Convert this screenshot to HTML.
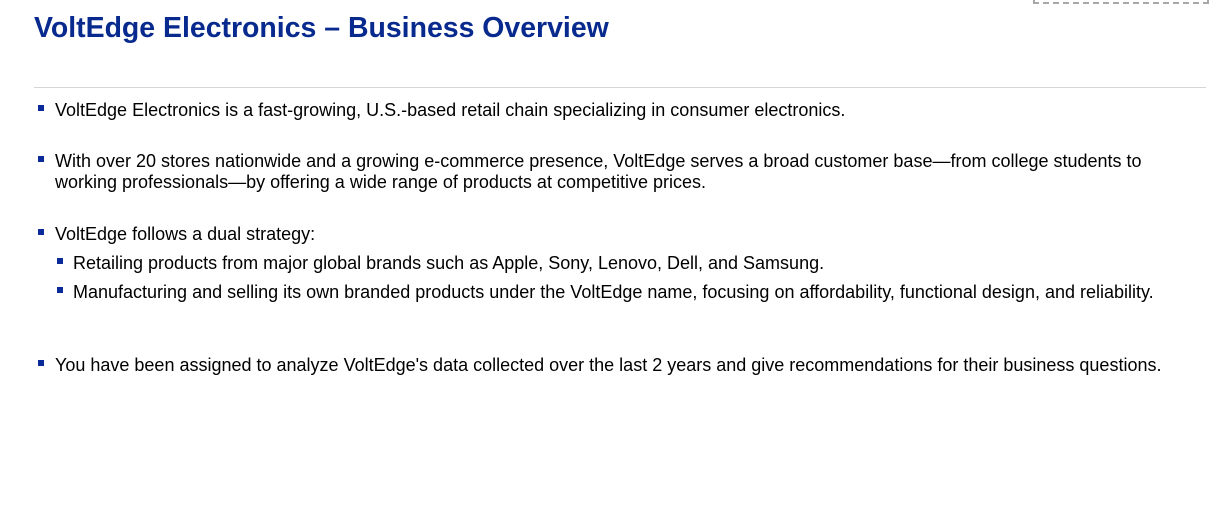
<!DOCTYPE html>
<html><head><meta charset="utf-8"><style>
body{margin:0;width:1231px;height:518px;background:#fff;position:relative;overflow:hidden;font-family:"Liberation Sans",Arial,sans-serif;}
.t{position:absolute;left:34px;top:12px;font-size:28.45px;font-weight:bold;color:#082a8e;white-space:nowrap;}
.rule{position:absolute;left:34px;top:87px;width:1172px;height:1px;background:#d6d6d6;}
.box{position:absolute;left:1033px;top:-10px;width:172px;height:10px;border:2px dashed #a8a8a8;}
.l{position:absolute;font-size:18px;color:#000;white-space:nowrap;line-height:21px;}
.b{position:absolute;width:6px;height:6px;background:#0a2a9a;}
</style></head><body>
<div class="box"></div>
<div class="t">VoltEdge Electronics – Business Overview</div>
<div class="rule"></div>
<div class="b" style="left:38px;top:105px"></div>
<div class="l" style="left:55px;top:100px">VoltEdge Electronics is a fast-growing, U.S.-based retail chain specializing in consumer electronics.</div>
<div class="b" style="left:38px;top:156px"></div>
<div class="l" style="left:55px;top:151px">With over 20 stores nationwide and a growing e-commerce presence, VoltEdge serves a broad customer base—from college students to<br>working professionals—by offering a wide range of products at competitive prices.</div>
<div class="b" style="left:38px;top:229px"></div>
<div class="l" style="left:55px;top:224px">VoltEdge follows a dual strategy:</div>
<div class="b" style="left:57px;top:258px"></div>
<div class="l" style="left:73px;top:253px">Retailing products from major global brands such as Apple, Sony, Lenovo, Dell, and Samsung.</div>
<div class="b" style="left:57px;top:287px"></div>
<div class="l" style="left:73px;top:282px">Manufacturing and selling its own branded products under the VoltEdge name, focusing on affordability, functional design, and reliability.</div>
<div class="b" style="left:38px;top:360px"></div>
<div class="l" style="left:55px;top:355px">You have been assigned to analyze VoltEdge's data collected over the last 2 years and give recommendations for their business questions.</div>
</body></html>
